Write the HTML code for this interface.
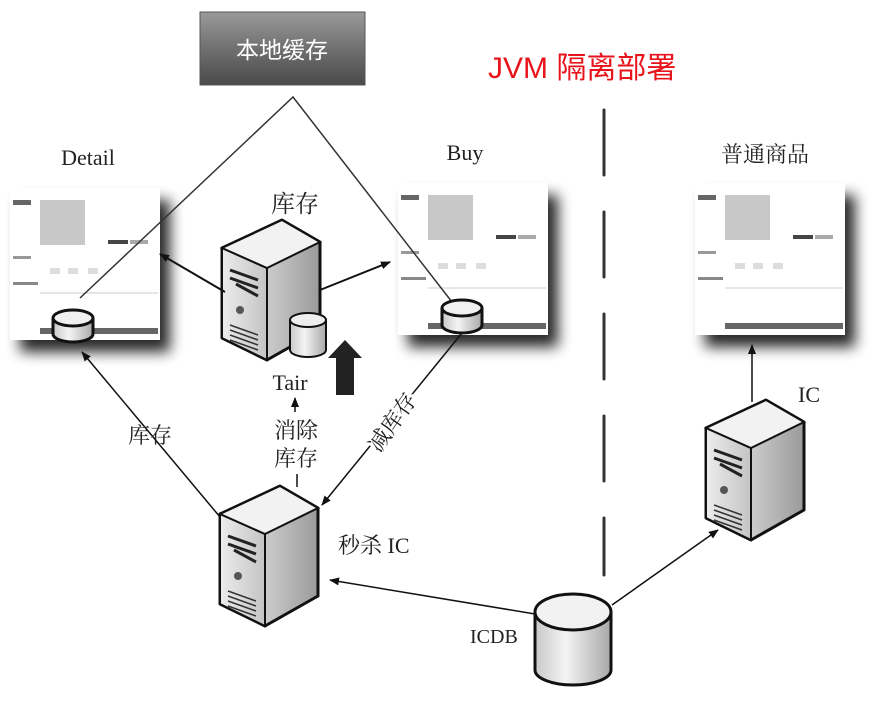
<!DOCTYPE html>
<html><head><meta charset="utf-8"><style>
html,body{margin:0;padding:0;background:#fff;width:882px;height:716px;overflow:hidden}
svg text{font-family:"Liberation Serif","Noto Serif CJK SC",serif;fill:#222}
</style></head><body>
<svg width="882" height="716" viewBox="0 0 882 716" xmlns="http://www.w3.org/2000/svg">
<defs>
<linearGradient id="box" x1="0" y1="0" x2="0" y2="1"><stop offset="0" stop-color="#9a9a9a"/><stop offset="0.5" stop-color="#707070"/><stop offset="1" stop-color="#4a4a4a"/></linearGradient>
<linearGradient id="front" x1="0" y1="0" x2="1" y2="0"><stop offset="0" stop-color="#ececec"/><stop offset="1" stop-color="#c4c4c4"/></linearGradient>
<linearGradient id="side" x1="0" y1="0" x2="1" y2="0"><stop offset="0" stop-color="#f6f6f6"/><stop offset="1" stop-color="#9a9a9a"/></linearGradient>
<linearGradient id="cyl" x1="0" y1="0" x2="1" y2="0"><stop offset="0" stop-color="#c8c8c8"/><stop offset="0.4" stop-color="#f4f4f4"/><stop offset="1" stop-color="#a8a8a8"/></linearGradient>
<filter id="sh" x="-15%" y="-15%" width="140%" height="140%"><feGaussianBlur in="SourceAlpha" stdDeviation="7"/><feOffset dx="10" dy="12"/><feComponentTransfer><feFuncA type="linear" slope="0.85"/></feComponentTransfer><feMerge><feMergeNode/><feMergeNode in="SourceGraphic"/></feMerge></filter>
<marker id="ar" markerWidth="10" markerHeight="10" refX="9" refY="5" orient="auto" markerUnits="userSpaceOnUse"><path d="M0,1 L10,5 L0,9 Z" fill="#111"/></marker>
<g id="srv">
 <path d="M0,28 L60,0 L98,22 L98,110 L45,140 L0,118 Z" fill="url(#side)" stroke="#111" stroke-width="3" stroke-linejoin="round"/>
 <path d="M0,28 L45,48 L45,140 L0,118 Z" fill="url(#front)" stroke="#111" stroke-width="2"/>
 <path d="M0,28 L60,0 L98,22 L45,48 Z" fill="#f2f2f2" stroke="#111" stroke-width="2"/>
 <path d="M8,50 L36,60 M8,58 L36,68 M14,64 L36,76" stroke="#222" stroke-width="3"/>
 <circle cx="18" cy="90" r="4" fill="#555"/>
 <path d="M8,105 L36,115 M8,110 L36,120 M8,115 L36,125 M8,120 L36,130" stroke="#333" stroke-width="1.5"/>
</g>
<g id="shot">
 <rect x="0" y="0" width="150" height="152" fill="#fff"/>
 <rect x="3" y="12" width="18" height="5" fill="#666"/>
 <rect x="30" y="12" width="45" height="45" fill="#c8c8c8"/>
 <rect x="98" y="52" width="20" height="4" fill="#444"/><rect x="120" y="52" width="18" height="4" fill="#aaa"/>
 <rect x="3" y="68" width="18" height="3" fill="#999"/>
 <rect x="40" y="80" width="10" height="6" fill="#ddd"/><rect x="58" y="80" width="10" height="6" fill="#ddd"/><rect x="78" y="80" width="10" height="6" fill="#ddd"/>
 <rect x="3" y="94" width="25" height="3" fill="#888"/>
 <line x1="30" y1="105" x2="148" y2="105" stroke="#ccc"/>
 <rect x="30" y="140" width="118" height="6" fill="#666"/>
</g>
</defs>

<rect x="200" y="12" width="165" height="73" fill="url(#box)" stroke="#555"/>
<text x="282" y="58" text-anchor="middle" font-size="23" style="fill:#fff;font-family:'Liberation Sans','Noto Sans CJK SC',sans-serif">本地缓存</text>
<text x="488" y="78" font-size="30" style="fill:#e8141c;font-family:'Liberation Sans','Noto Sans CJK SC',sans-serif">JVM 隔离部署</text>

<line x1="604" y1="110" x2="604" y2="575" stroke="#333" stroke-width="3" stroke-dasharray="65 37" stroke-linecap="round"/>

<g filter="url(#sh)"><use href="#shot" x="10" y="188"/></g>
<g filter="url(#sh)"><use href="#shot" x="398" y="183"/></g>
<g filter="url(#sh)"><use href="#shot" x="695" y="183"/></g>

<text x="88" y="165" text-anchor="middle" font-size="22">Detail</text>
<text x="465" y="160" text-anchor="middle" font-size="22">Buy</text>
<text x="765" y="162" text-anchor="middle" font-size="22">普通商品</text>

<polyline points="80,298 293,97 452,302" fill="none" stroke="#333" stroke-width="1.5"/>

<use href="#srv" x="222" y="220"/>
<g>
 <path d="M290,320 L290,350 A18,7 0 0 0 326,350 L326,320" fill="url(#cyl)" stroke="#111" stroke-width="2"/>
 <ellipse cx="308" cy="320" rx="18" ry="7" fill="#eee" stroke="#111" stroke-width="2"/>
</g>
<text x="295" y="212" text-anchor="middle" font-size="24">库存</text>
<text x="290" y="390" text-anchor="middle" font-size="22">Tair</text>
<path d="M345,340 L362,358 L354,358 L354,395 L336,395 L336,358 L328,358 Z" fill="#222"/>
<line x1="225" y1="292" x2="160" y2="254" stroke="#111" stroke-width="2" marker-end="url(#ar)"/>
<line x1="320" y1="290" x2="390" y2="262" stroke="#111" stroke-width="2" marker-end="url(#ar)"/>

<g>
 <path d="M53,318 L53,334 A20,8 0 0 0 93,334 L93,318" fill="url(#cyl)" stroke="#111" stroke-width="3"/>
 <ellipse cx="73" cy="318" rx="20" ry="8" fill="#f0f0f0" stroke="#111" stroke-width="3"/>
</g>
<g>
 <path d="M442,308 L442,325 A20,8 0 0 0 482,325 L482,308" fill="url(#cyl)" stroke="#111" stroke-width="3"/>
 <ellipse cx="462" cy="308" rx="20" ry="8" fill="#f0f0f0" stroke="#111" stroke-width="3"/>
</g>

<use href="#srv" x="220" y="486"/>
<text x="338" y="553" font-size="22">秒杀 IC</text>
<line x1="220" y1="517" x2="82" y2="352" stroke="#111" stroke-width="1.5" marker-end="url(#ar)"/>
<text x="150" y="443" text-anchor="middle" font-size="22">库存</text>
<line x1="295" y1="412" x2="295" y2="398" stroke="#111" stroke-width="1.5" marker-end="url(#ar)"/>
<text x="296" y="438" text-anchor="middle" font-size="22">消除</text>
<text x="296" y="466" text-anchor="middle" font-size="22">库存</text>
<line x1="297" y1="474" x2="297" y2="487" stroke="#111" stroke-width="1.5"/>
<line x1="462" y1="333" x2="322" y2="505" stroke="#111" stroke-width="1.5" marker-end="url(#ar)"/>
<text x="392" y="430" text-anchor="middle" font-size="22" transform="rotate(-55 392 422)" style="paint-order:stroke;stroke:#fff;stroke-width:6">减库存</text>

<use href="#srv" x="706" y="400"/>
<text x="798" y="402" font-size="22">IC</text>
<line x1="752" y1="402" x2="752" y2="345" stroke="#111" stroke-width="1.5" marker-end="url(#ar)"/>

<path d="M535,612 L535,670 A38,15 0 0 0 611,670 L611,612" fill="url(#cyl)" stroke="#111" stroke-width="3"/>
<ellipse cx="573" cy="612" rx="38" ry="18" fill="#f2f2f2" stroke="#111" stroke-width="3"/>
<text x="470" y="643" font-size="20">ICDB</text>
<line x1="535" y1="614" x2="330" y2="580" stroke="#111" stroke-width="1.5" marker-end="url(#ar)"/>
<line x1="612" y1="605" x2="718" y2="530" stroke="#111" stroke-width="1.5" marker-end="url(#ar)"/>
</svg>
</body></html>
